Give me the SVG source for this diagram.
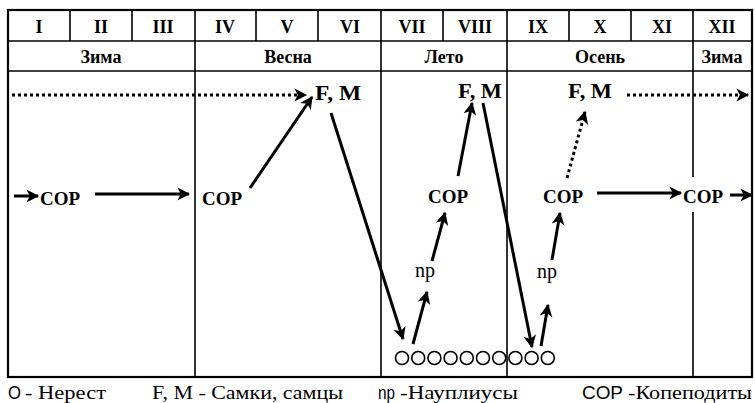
<svg xmlns="http://www.w3.org/2000/svg" width="755" height="403" viewBox="0 0 755 403">
<defs>
<marker id="ah" markerUnits="userSpaceOnUse" markerWidth="14" markerHeight="14" viewBox="0 0 12 12" refX="10" refY="6" orient="auto">
<path d="M0,0.5 L11,6 L0,11.5 L3,6 z" fill="#000"/>
</marker>
</defs>
<style>
.grid{stroke:#000;stroke-width:1.6;fill:none}
.frame{stroke:#000;stroke-width:2.2;fill:none}
.hd{font-weight:bold;font-size:18px;text-anchor:middle;fill:#000}
.lb{font-weight:bold;font-size:19px;fill:#000}
.fm{font-weight:bold;font-size:20px;fill:#000}
.np{font-size:20px;fill:#000}
.lg{font-size:18px;fill:#000}
.ls{font-size:18px;fill:#000}
.ar{stroke:#000;stroke-width:3;fill:none;marker-end:url(#ah)}
.dt{stroke:#000;stroke-width:3;fill:none;stroke-dasharray:3 3;marker-end:url(#ah)}
.egg{stroke:#000;stroke-width:1.6;fill:#fff}
</style>
<rect width="755" height="403" fill="#fff"/>
<g id="table">
<rect class="frame" x="8" y="10" width="744" height="367"/>
<line class="grid" x1="8" y1="41" x2="752" y2="41"/>
<line class="grid" x1="8" y1="71" x2="752" y2="71"/>
<path class="grid" d="M70,10V41M132,10V41M256,10V41M318,10V41M443,10V41M569,10V41M631,10V41"/>
<path class="grid" d="M195,10V377M381,10V377M507,10V377M693,10V177M693,212V377"/>
</g>
<g font-family="Liberation Serif, Times New Roman, serif">
<g id="months">
<text class="hd" x="39" y="33">I</text>
<text class="hd" x="101" y="33">II</text>
<text class="hd" x="163" y="33">III</text>
<text class="hd" x="225" y="33">IV</text>
<text class="hd" x="287" y="33">V</text>
<text class="hd" x="350" y="33">VI</text>
<text class="hd" x="412" y="33">VII</text>
<text class="hd" x="475" y="33">VIII</text>
<text class="hd" x="538" y="33">IX</text>
<text class="hd" x="600" y="33">X</text>
<text class="hd" x="662" y="33">XI</text>
<text class="hd" x="722" y="33">XII</text>
</g>
<g id="seasons">
<text class="hd" x="101" y="63">Зима</text>
<text class="hd" x="288" y="63">Весна</text>
<text class="hd" x="444" y="63">Лето</text>
<text class="hd" x="600" y="63">Осень</text>
<text class="hd" x="722" y="63">Зима</text>
</g>
<g id="fm1"><text class="fm" x="315" y="100" textLength="46" lengthAdjust="spacingAndGlyphs">F, M</text></g>
<g id="fm2"><text class="fm" x="458" y="98" textLength="44" lengthAdjust="spacingAndGlyphs">F, M</text></g>
<g id="fm3"><text class="fm" x="568" y="98" textLength="44" lengthAdjust="spacingAndGlyphs">F, M</text></g>
<g id="cop1"><text class="lb" x="40" y="205">COP</text></g>
<g id="cop2"><text class="lb" x="202" y="205">COP</text></g>
<g id="cop3"><text class="lb" x="428" y="203">COP</text></g>
<g id="cop4"><text class="lb" x="543" y="203">COP</text></g>
<g id="cop5"><text class="lb" x="683" y="203">COP</text></g>
<g id="np1"><text class="np" x="415" y="277">np</text></g>
<g id="np2"><text class="np" x="537" y="278">np</text></g>
</g>
<g id="eggs">
<circle class="egg" cx="402" cy="358" r="6.5"/>
<circle class="egg" cx="418.2" cy="358" r="6.5"/>
<circle class="egg" cx="434.4" cy="358" r="6.5"/>
<circle class="egg" cx="450.6" cy="358" r="6.5"/>
<circle class="egg" cx="466.8" cy="358" r="6.5"/>
<circle class="egg" cx="483" cy="358" r="6.5"/>
<circle class="egg" cx="499.2" cy="358" r="6.5"/>
<circle class="egg" cx="515.4" cy="358" r="6.5"/>
<circle class="egg" cx="531.6" cy="358" r="6.5"/>
<circle class="egg" cx="547.8" cy="358" r="6.5"/>
</g>
<g id="connectors">
<line class="dt" x1="12" y1="95" x2="306" y2="95"/>
<line class="ar" x1="14" y1="196" x2="38" y2="196"/>
<line class="ar" x1="95" y1="194" x2="189" y2="194"/>
<line class="ar" x1="250" y1="188" x2="312" y2="97"/>
<line class="ar" x1="331" y1="113" x2="403" y2="339"/>
<line class="ar" x1="413" y1="344" x2="427" y2="292"/>
<line class="ar" x1="432" y1="261" x2="445" y2="213"/>
<line class="ar" x1="458" y1="176" x2="472" y2="103"/>
<line class="ar" x1="483" y1="103" x2="532" y2="347"/>
<line class="ar" x1="541" y1="346" x2="548" y2="305"/>
<line class="ar" x1="552" y1="260" x2="560" y2="213"/>
<line class="dt" x1="567" y1="178" x2="585" y2="112"/>
<line class="dt" x1="627" y1="95" x2="748" y2="95"/>
<line class="ar" x1="597" y1="193" x2="681" y2="193"/>
<line class="ar" x1="730" y1="195" x2="752" y2="195"/>
</g>
<g id="legend">
<text class="ls" font-family="Liberation Sans, Arial, sans-serif" x="8" y="399" textLength="13" lengthAdjust="spacingAndGlyphs">O</text>
<text class="lg" font-family="Liberation Serif, Times New Roman, serif" x="25" y="399" textLength="81" lengthAdjust="spacingAndGlyphs">- Нерест</text>
<text class="lg" font-family="Liberation Serif, Times New Roman, serif" x="152" y="399" textLength="191" lengthAdjust="spacingAndGlyphs">F, M - Самки, самцы</text>
<text class="ls" font-family="Liberation Sans, Arial, sans-serif" x="378" y="399" textLength="17" lengthAdjust="spacingAndGlyphs">np</text>
<text class="lg" font-family="Liberation Serif, Times New Roman, serif" x="400" y="399" textLength="118" lengthAdjust="spacingAndGlyphs">-Науплиусы</text>
<text class="ls" font-family="Liberation Sans, Arial, sans-serif" x="582" y="399" textLength="41" lengthAdjust="spacingAndGlyphs">COP</text>
<text class="lg" font-family="Liberation Serif, Times New Roman, serif" x="628" y="399" textLength="124" lengthAdjust="spacingAndGlyphs">-Копеподиты</text>
</g>
</svg>
